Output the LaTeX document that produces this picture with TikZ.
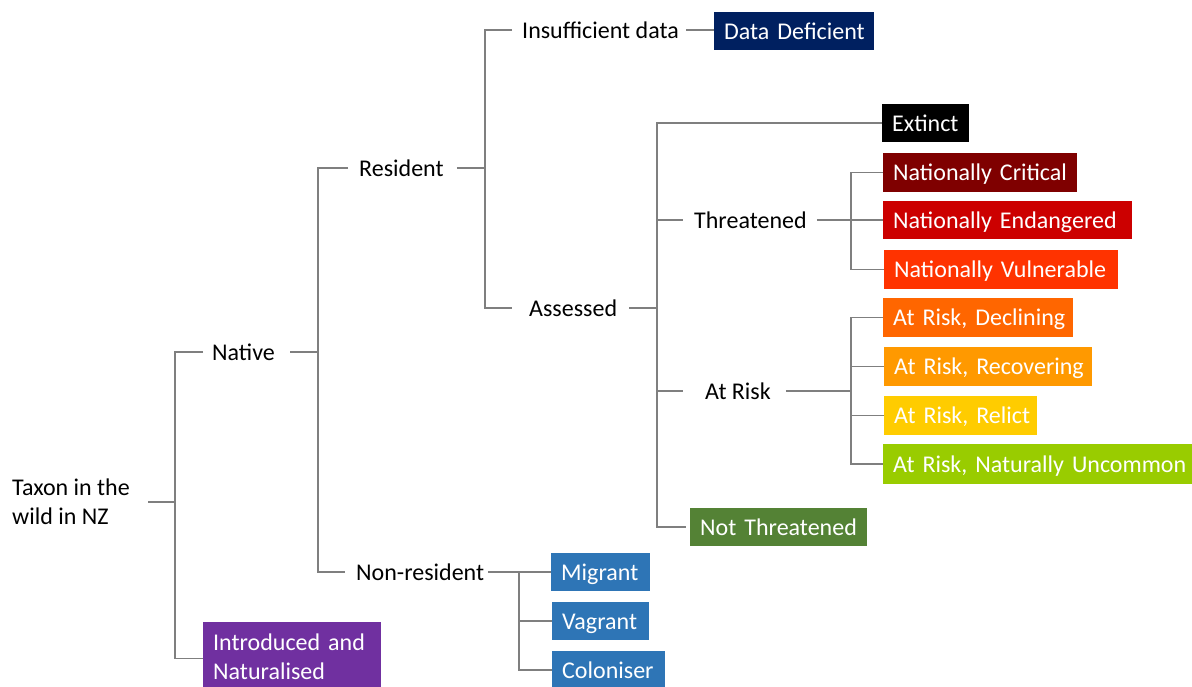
\documentclass[tikz,border=0pt]{standalone}
\usepackage{fontspec}
\setmainfont{Carlito}
\begin{document}
\begin{tikzpicture}[x=1pt,y=-1pt,
  font=\fontsize{24}{29}\selectfont,
  conn/.style={draw={rgb,255:red,127;green,127;blue,127},line width=1.2pt},
  lbl/.style={anchor=west,inner xsep=0pt,inner ysep=0pt,text height=16pt,text depth=0pt},
  cbox/.style={anchor=west,fill=#1,text=white,inner xsep=10pt,inner ysep=0pt,
     text height=16pt,text depth=0pt,align=left}]
\definecolor{cDD}{HTML}{002060}
\definecolor{cNC}{HTML}{7F0000}
\definecolor{cNE}{HTML}{CC0000}
\definecolor{cNV}{HTML}{FF3300}
\definecolor{cARD}{HTML}{FF6600}
\definecolor{cARR}{HTML}{FF9900}
\definecolor{cREL}{HTML}{FFCC00}
\definecolor{cNU}{HTML}{99CC00}
\definecolor{cNT}{HTML}{548235}
\definecolor{cBL}{HTML}{2E75B6}
\definecolor{cPU}{HTML}{7030A0}
\useasboundingbox (0,0) rectangle (1192,686);
\begin{scope}
\clip (0,0) rectangle (1192,686);
% labels
\node[anchor=west,inner sep=0pt,align=left] (taxon) at (12,502) {Taxon in the\\wild in NZ};
\node[lbl] (native) at (212,352) {Native};
\node[lbl] (resident) at (359,168) {Resident};
\node[lbl] (insuf) at (522,30) {Insufficient data};
\node[lbl] (assessed) at (529,308) {Assessed};
\node[lbl] (threat) at (694,220) {Threatened};
\node[lbl] (atrisk) at (705,391) {At Risk};
\node[lbl] (nonres) at (356,572) {Non-resident};
% boxes
\node[cbox=cDD,minimum width=160pt,minimum height=38pt,text width=140pt] (dd) at (714,31) {\mbox{Data Deficient}};
\node[cbox=black,minimum width=87pt,minimum height=38pt,text width=67pt] (ext) at (882,123) {\mbox{Extinct}};
\node[cbox=cNC,minimum width=194pt,minimum height=39pt,text width=174pt] (nc) at (883,172.5) {\mbox{Nationally Critical}};
\node[cbox=cNE,minimum width=249pt,minimum height=38pt,text width=229pt] (ne) at (883,220) {\mbox{Nationally Endangered}};
\node[cbox=cNV,minimum width=234pt,minimum height=39pt,text width=214pt] (nv) at (884,269.5) {\mbox{Nationally Vulnerable}};
\node[cbox=cARD,minimum width=190pt,minimum height=39pt,text width=170pt] (ard) at (883,317.5) {\mbox{At Risk, Declining}};
\node[cbox=cARR,minimum width=208pt,minimum height=39pt,text width=188pt] (arr) at (884,366.5) {\mbox{At Risk, Recovering}};
\node[cbox=cREL,minimum width=153pt,minimum height=39pt,text width=133pt] (rel) at (884,415.5) {\mbox{At Risk, Relict}};
\node[cbox=cNU,minimum width=309pt,minimum height=40pt,text width=289pt] (nu) at (883,464) {\mbox{At Risk, Naturally Uncommon}};
\node[cbox=cNT,minimum width=177pt,minimum height=38pt,text width=157pt] (nt) at (690,527) {\mbox{Not Threatened}};
\node[cbox=cBL,minimum width=99pt,minimum height=38pt,text width=79pt] (mig) at (551,572) {\mbox{Migrant}};
\node[cbox=cBL,minimum width=97pt,minimum height=38pt,text width=77pt] (vag) at (552,621) {\mbox{Vagrant}};
\node[cbox=cBL,minimum width=113pt,minimum height=38pt,text width=93pt] (col) at (552,670) {\mbox{Coloniser}};
\node[anchor=north west,fill=cPU,text=white,inner xsep=10pt,inner ysep=9pt,
      minimum width=178pt,minimum height=70pt,text width=158pt,align=left] (intro) at (203,622) {Introduced and\\Naturalised};
% branch points
\coordinate (b1) at (175,502);
\coordinate (b2) at (318,352);
\coordinate (b3) at (485,168);
\coordinate (b4) at (657,308);
\coordinate (b5) at (851,220);
\coordinate (b6) at (851,391);
\coordinate (b7) at (519,572);
% connectors
\draw[conn] ([xshift=18pt]taxon.east) -- (b1);
\draw[conn] ([xshift=-9pt]native.west) -| (b1) |- ([yshift=-1pt]intro.west);
\draw[conn] ([xshift=15pt]native.east) -- (b2);
\draw[conn] ([xshift=-11pt]resident.west) -| (b2) |- ([xshift=-11pt]nonres.west);
\draw[conn] ([xshift=13pt]resident.east) -- (b3);
\draw[conn] ([xshift=-10pt]insuf.west) -| (b3) |- ([xshift=-17pt]assessed.west);
\draw[conn] ([xshift=7pt]insuf.east) -- (insuf.east -| dd.west);
\draw[conn] ([xshift=12pt]assessed.east) -- (b4);
\draw[conn] (ext.west) -| (b4) |- ([xshift=-4pt]nt.west);
\draw[conn] (b4 |- threat.west) -- ([xshift=-11pt]threat.west);
\draw[conn] (b4 |- atrisk.west) -- ([xshift=-22pt]atrisk.west);
\draw[conn] ([xshift=10pt]threat.east) -- (ne.west);
\draw[conn] (nc.west) -| (b5) |- (nv.west);
\draw[conn] ([xshift=15pt]atrisk.east) -- (b6);
\draw[conn] (ard.west) -| (b6) |- (nu.west);
\draw[conn] (b6 |- arr.west) -- (arr.west);
\draw[conn] (b6 |- rel.west) -- (rel.west);
\draw[conn] ([xshift=4pt]nonres.east) -- (mig.west);
\draw[conn] (b7) |- (col.west);
\draw[conn] (b7 |- vag.west) -- (vag.west);
\end{scope}
\end{tikzpicture}
\end{document}
